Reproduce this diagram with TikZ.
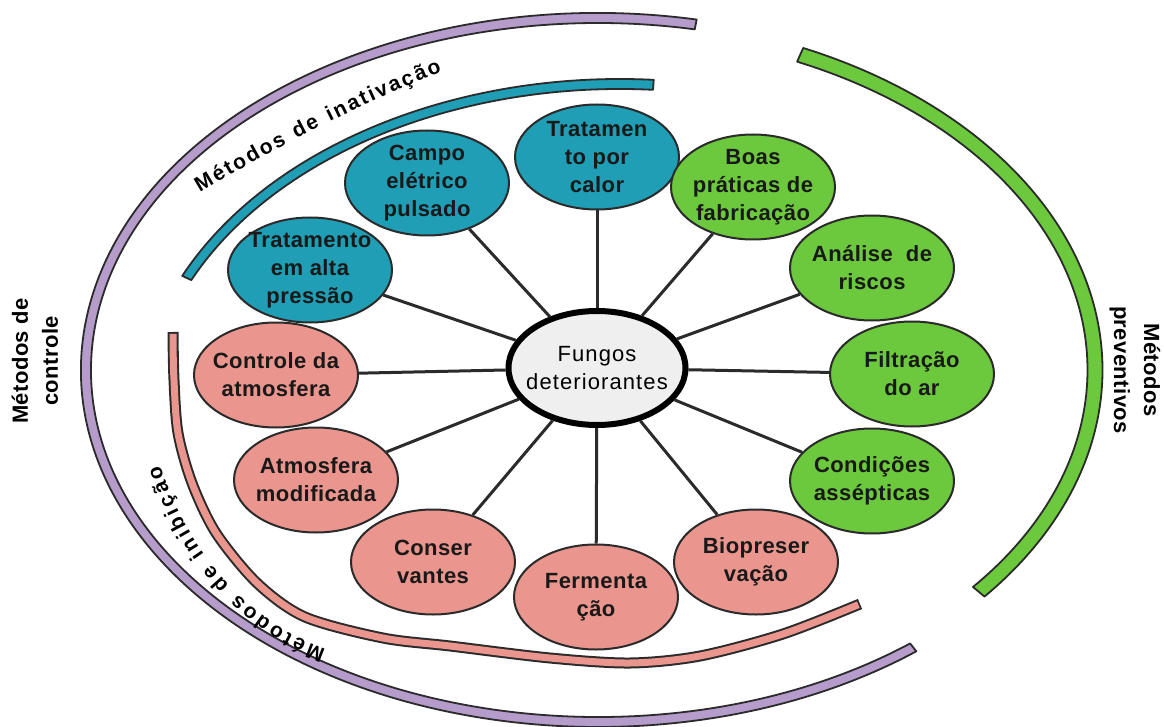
\documentclass[tikz,border=0pt]{standalone}
\usepackage{fontspec}
\setmainfont{Liberation Sans}
\newfontfamily\nodefnt{Liberation Sans}[LetterSpace=2]
\newfontfamily\cenfnt{Liberation Sans}[LetterSpace=5]
\newfontfamily\labfnt{Liberation Sans}[LetterSpace=2]
\usetikzlibrary{shapes.geometric,decorations.text}
\definecolor{bl}{HTML}{1F9EB5}
\definecolor{gr}{HTML}{6CC83C}
\definecolor{pk}{HTML}{EA958D}
\definecolor{pu}{HTML}{B59CCB}
\definecolor{ol}{HTML}{2B2B2B}
\definecolor{cf}{HTML}{EFEFEF}
\newcommand\myarcfont{\labfnt\bfseries\fontsize{21}{21}\selectfont}
\begin{document}
\begin{tikzpicture}[x=1pt,y=1pt,
  sat/.style={ellipse, draw=ol, line width=2, minimum width=164, minimum height=105, inner sep=0},
  lbl/.style={align=center, font={\nodefnt\bfseries\fontsize{22}{28}\selectfont}, text={black!90}, inner sep=0},
  clbl/.style={align=center, font={\cenfnt\fontsize{22}{28}\selectfont}, text=black, inner sep=0},
  side/.style={align=center, font={\labfnt\bfseries\fontsize{22}{30}\selectfont}, text=black, inner sep=0},
  conn/.style={draw=ol, line width=3},
  bandline/.style={draw=ol, line width=1.8, line join=round}]
\useasboundingbox[fill=white] (0,0) rectangle (1164,-727);

% purple band
\draw[bandline, fill=pu, shift={(598,-370)}]
  (79:517 and 357) arc[start angle=79, end angle=308, x radius=517, y radius=357]
  -- (308:507 and 347) arc[start angle=308, end angle=79, x radius=507, y radius=347] -- cycle;
% green band
\draw[bandline, fill=gr, shift={(598,-370)}]
  (66:504.5 and 352.5) arc[start angle=66, end angle=-40, x radius=504.5, y radius=352.5]
  -- (-40:489.5 and 337.5) arc[start angle=-40, end angle=66, x radius=489.5, y radius=337.5] -- cycle;
% blue band
\draw[bandline, fill=bl, shift={(620,-420)}]
  (86:483 and 341) arc[start angle=86, end angle=155, x radius=483, y radius=341]
  -- (155:473 and 331) arc[start angle=155, end angle=86, x radius=473, y radius=331] -- cycle;
% pink band
\draw[line width=11, ol] plot[smooth] coordinates {(173,-332) (174,-380) (178,-433) (192,-483) (216,-533) (257,-583) (305,-617) (383,-638) (450,-646) (550,-658) (630,-663) (700,-656) (783,-634) (860,-604)};
\draw[line width=7, pk, shorten <=1.8, shorten >=1.8] plot[smooth] coordinates {(173,-332) (174,-380) (178,-433) (192,-483) (216,-533) (257,-583) (305,-617) (383,-638) (450,-646) (550,-658) (630,-663) (700,-656) (783,-634) (860,-604)};

% arc labels
\path[decorate, decoration={text along path, text={|\myarcfont|Métodos de inativação}, text align={fit to path}}]
  (200,-193) .. controls (278,-146) and (360,-104) .. (442,-72);
\path[decorate, decoration={text along path, text={|\myarcfont|Métodos de inibição}, text align={fit to path}}]
  (326,-649) .. controls (256,-625) and (193,-565) .. (160,-465);
\node[side, rotate=90] (lc) at (35,-361) {Métodos de\\controle};
\node[side, rotate=-90] (rp) at (1135,-370) {Métodos\\preventivos};

% center
\node[ellipse, draw=black, line width=6, fill=cf, minimum width=177, minimum height=114, inner sep=0] (c) at (597,-368) {};
\node[clbl] at (c) {Fungos\\deteriorantes};

% satellites
\node[sat, fill=bl] (calor) at (597,-157) {};
\node[sat, fill=bl] (campo) at (427,-183) {};
\node[sat, fill=bl] (pressao) at (310,-270) {};
\node[sat, fill=pk] (controle) at (276,-375) {};
\node[sat, fill=pk] (atmmod) at (316,-480) {};
\node[sat, fill=pk] (conserv) at (433,-562) {};
\node[sat, fill=pk] (ferm) at (596,-597) {};
\node[sat, fill=pk] (bio) at (756,-562) {};
\node[sat, fill=gr] (condicoes) at (872,-481) {};
\node[sat, fill=gr] (filtracao) at (912,-374) {};
\node[sat, fill=gr] (analise) at (872,-268) {};
\node[sat, fill=gr] (boas) at (753,-187) {};

\node[lbl] at (calor) {Tratamen\\to por\\calor};
\node[lbl] at (campo) {Campo\\elétrico\\pulsado};
\node[lbl] at (pressao) {Tratamento\\em alta\\pressão};
\node[lbl] at (controle) {Controle da\\atmosfera};
\node[lbl] at (atmmod) {Atmosfera\\modificada};
\node[lbl] at (conserv) {Conser\\vantes};
\node[lbl] at (ferm) {Fermenta\\ção};
\node[lbl] at (bio) {Biopreser\\vação};
\node[lbl] at (condicoes) {Condições\\assépticas};
\node[lbl] at (filtracao) {Filtração\\do ar};
\node[lbl] at (analise) {Análise\ \ de\\riscos};
\node[lbl] at (boas) {Boas\\práticas de\\fabricação};

\foreach \n in {calor,campo,pressao,controle,atmmod,conserv,ferm,bio,condicoes,filtracao,analise,boas}
  \draw[conn] (c) -- (\n);
\end{tikzpicture}
\end{document}
